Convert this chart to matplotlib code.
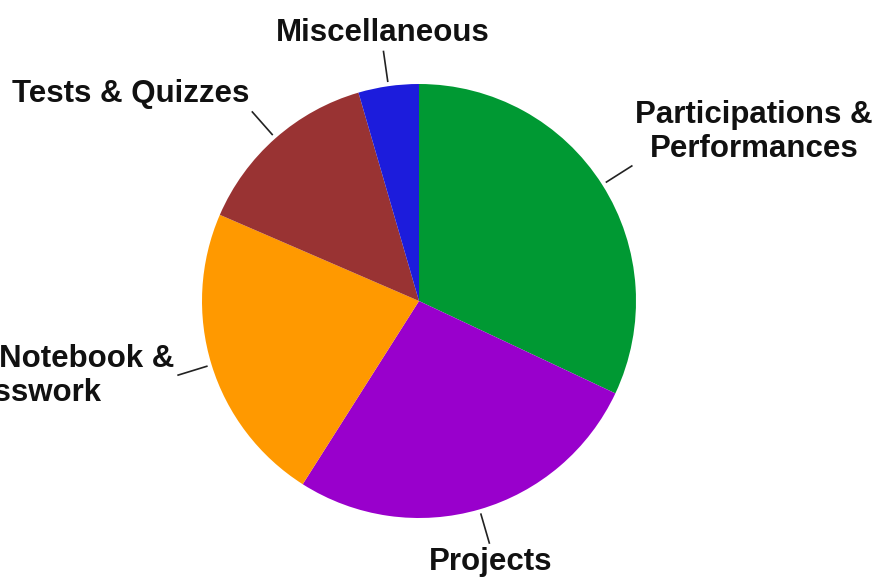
import numpy as np
import matplotlib
matplotlib.use("Agg")
import matplotlib.pyplot as plt

# slice data, clockwise from the top
labels = ["Participations &\nPerformances", "Projects", "Student Notebook &\nClasswork",
          "Tests & Quizzes", "Miscellaneous"]
values = [32, 27, 22.5, 14, 4.5]
colors = ["#009933", "#9900cc", "#ff9900", "#993333", "#1c1cdc"]


def main():
    fig = plt.figure(figsize=(8.75, 5.79), dpi=100)
    ax = fig.add_axes([0, 0, 1, 1])
    cx, cy, r = 419, 278, 217
    wedges, _ = ax.pie(values, colors=colors, startangle=90, counterclock=False,
                       center=(cx, cy), radius=r, wedgeprops=dict(linewidth=0))
    ax.set_xlim(0, 875)
    ax.set_ylim(0, 579)
    ax.set_aspect("equal")
    ax.axis("off")

    # leader lines and labels
    for w, lab in zip(wedges, labels):
        ang = np.deg2rad((w.theta1 + w.theta2) / 2)
        c, s = np.cos(ang), np.sin(ang)
        ax.plot([cx + 222 * c, cx + 252 * c], [cy + 222 * s, cy + 252 * s],
                color="#222222", lw=1.2)
        if abs(c) < 0.35:
            ha = "center"
            va = "bottom" if s > 0 else "top"
        else:
            ha = "left" if c > 0 else "right"
            if abs(s) < 0.5:
                va = "center"
            else:
                va = "bottom" if s > 0 else "top"
        ax.text(cx + 256 * c, cy + 256 * s, lab, ha=ha, va=va, multialignment="center",
                fontsize=22.5, fontweight="bold", family="Liberation Sans",
                linespacing=1.18, color="#111111")

    fig.savefig("out.png", dpi=100, facecolor="white")


if __name__ == "__main__":
    main()
